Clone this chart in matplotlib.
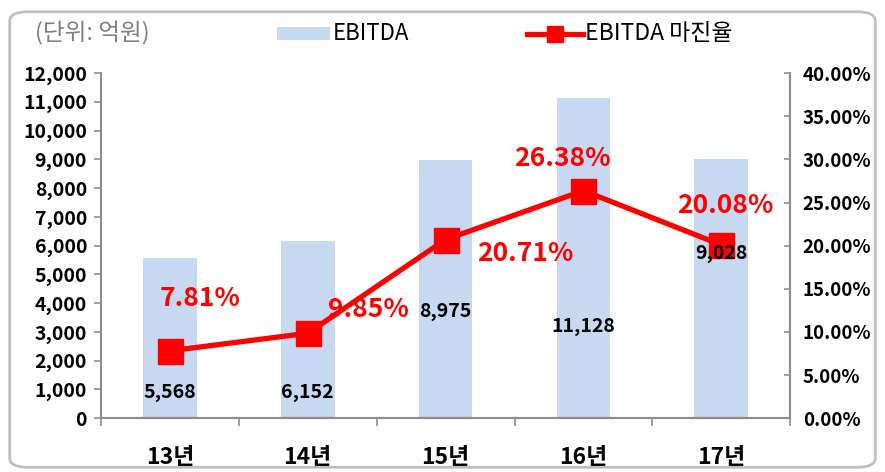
import matplotlib
matplotlib.use("Agg")
import matplotlib.pyplot as plt
from matplotlib.patches import FancyBboxPatch, Rectangle
from matplotlib.lines import Line2D
from matplotlib.ticker import FuncFormatter, MultipleLocator

plt.rcParams['font.family'] = ['Noto Sans CJK KR', 'DejaVu Sans']

# 데이터
years = ['13년', '14년', '15년', '16년', '17년']
ebitda = [5568, 6152, 8975, 11128, 9028]
margin = [7.81, 9.85, 20.71, 26.38, 20.08]

# 라벨 위치 (값 기준)
bar_label_y = [900, 900, 3720, 3200, 5740]
pct_label_pos = [(0.22, 13.9), (1.44, 12.6), (2.58, 19.1), (2.85, 30.1), (4.03, 24.6)]

bar_color = '#c6d9f1'
red = '#ff0000'

fig = plt.figure(figsize=(8.85, 4.72), dpi=100)
ax = fig.add_axes([0.114, 0.114, 0.779, 0.731])
ax2 = ax.twinx()

x = range(len(years))
ax.bar(x, ebitda, width=0.39, color=bar_color, zorder=1)
ax.set_ylim(0, 12000)
ax.set_xlim(-0.5, 4.5)
ax.yaxis.set_major_locator(MultipleLocator(1000))
ax.yaxis.set_major_formatter(FuncFormatter(lambda v, p: f'{int(v):,}'))

ax2.plot(x, margin, color=red, lw=3.8, marker='s', markersize=18, zorder=3)
ax2.set_ylim(0, 40)
ax2.yaxis.set_major_locator(MultipleLocator(5))
ax2.yaxis.set_major_formatter(FuncFormatter(lambda v, p: f'{v:.2f}%'))

for a in (ax, ax2):
    a.spines['top'].set_visible(False)
    for s in ['left', 'right', 'bottom']:
        a.spines[s].set_color('#8c8c8c')
        a.spines[s].set_linewidth(1.5)
ax.spines['right'].set_visible(False)
ax2.spines['left'].set_visible(False)

ax.set_xticks([i - 0.5 for i in range(len(years) + 1)], minor=False)
ax.set_xticklabels([])
ax.tick_params(axis='x', direction='out', length=6, color='#8c8c8c', width=1.2)
ax.set_xticks(list(x), minor=True)
ax.set_xticklabels(years, minor=True, fontsize=16.5, fontweight='bold')
ax.tick_params(axis='x', which='minor', length=0, pad=20)

ax.tick_params(axis='y', direction='out', length=5, color='#8c8c8c', width=1.2,
               labelsize=14, pad=5)
ax2.tick_params(axis='y', direction='in', length=4, color='#8c8c8c', width=1.2,
                labelsize=13.5, pad=9)
for lab in ax.get_yticklabels() + ax2.get_yticklabels():
    lab.set_fontweight('bold')

for i, v in enumerate(ebitda):
    ax2.text(i, bar_label_y[i], f'{v:,}', ha='center', va='center',
             transform=ax.transData, fontsize=14, fontweight='bold', zorder=5)

for i, v in enumerate(margin):
    px, py = pct_label_pos[i]
    ax2.text(px, py, f'{v:.2f}%', ha='center', va='center', color=red,
             fontsize=19, fontweight='bold', zorder=5)

# 범례 (수동 배치)
fig.text(0.04, 0.930, '(단위: 억원)', color='#7f7f7f', fontsize=17, va='center')
fig.patches.append(Rectangle((0.313, 0.915), 0.060, 0.028, transform=fig.transFigure,
                             facecolor=bar_color, edgecolor='none'))
fig.text(0.376, 0.930, 'EBITDA', fontsize=16, va='center')
fig.lines.append(Line2D([0.595, 0.659], [0.928, 0.928], transform=fig.transFigure,
                        color=red, lw=3.8))
fig.lines.append(Line2D([0.627], [0.928], transform=fig.transFigure, color=red,
                        marker='s', markersize=12, lw=0))
fig.text(0.661, 0.930, 'EBITDA 마진율', fontsize=16.5, va='center')

border = FancyBboxPatch((0.011, 0.01), 0.978, 0.965, transform=fig.transFigure,
                        boxstyle='round,pad=0,rounding_size=0.02',
                        facecolor='none', edgecolor='#bfbfbf', lw=2)
fig.patches.append(border)

fig.savefig('out.png', dpi=100)
